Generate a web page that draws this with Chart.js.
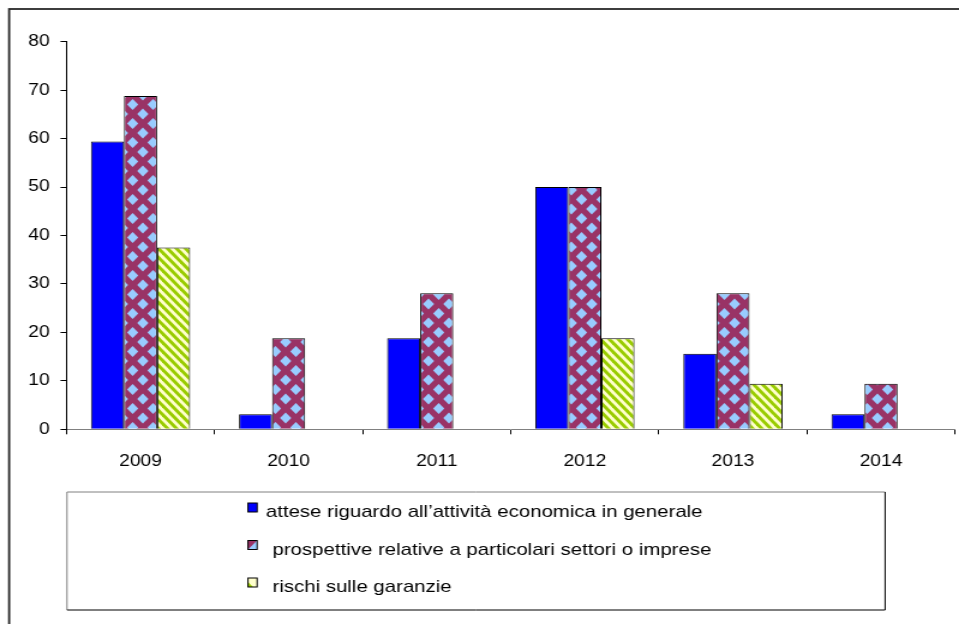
<!DOCTYPE html>
<html>
<head>
<meta charset="utf-8">
<script src="https://cdn.jsdelivr.net/npm/chart.js@4.4.1/dist/chart.umd.min.js"></script>
<style>
    html, body { margin: 0; padding: 0; background: #fff; overflow: hidden; }
    /* the sheet is drawn narrow and widened, like the exported workbook picture */
    #bankChart { display: block; transform: scaleX(1.2003); transform-origin: 0 0; }
</style>
</head>
<body>
<canvas id="bankChart" width="799" height="624"></canvas>
<script>
(function() {
    const YEARS = ['2009', '2010', '2011', '2012', '2013', '2014'];
    const ATTESE = [59.4, 3.1, 18.8, 50.0, 15.6, 3.1];
    const PROSPETTIVE = [68.8, 18.8, 28.1, 50.0, 28.1, 9.4];
    const RISCHI = [37.5, 0, 0, 18.8, 9.4, 0];
    const SERIES_LABELS = [
        'attese riguardo all\u2019attivit\u00e0 economica in generale',
        'prospettive relative a particolari settori o imprese',
        'rischi sulle garanzie'
    ];
    const Y_MAX = 80;
    const Y_STEP = 10;

    const FONT = "'Liberation Sans', Arial, sans-serif";

    function makeTile(w, h, draw) {
        const c = document.createElement('canvas');
        c.width = w;
        c.height = h;
        draw(c.getContext('2d'), w, h);
        return document.createElement('canvas').getContext('2d').createPattern(c, 'repeat');
    }

    // maroon with light blue diamonds, rows offset by half a step
    const diamonds = makeTile(17, 19, (g, w, h) => {
        g.fillStyle = '#993366';
        g.fillRect(0, 0, w, h);
        g.fillStyle = '#99ccff';
        const dx = 4.7, dy = 5.6;
        [[w / 2, h / 2], [0, 0], [w, 0], [0, h], [w, h]].forEach(([cx, cy]) => {
            g.beginPath();
            g.moveTo(cx, cy - dy);
            g.lineTo(cx + dx, cy);
            g.lineTo(cx, cy + dy);
            g.lineTo(cx - dx, cy);
            g.closePath();
            g.fill();
        });
    });

    // pale yellow with green down-right stripes
    const stripes = makeTile(15, 18, (g, w, h) => {
        g.fillStyle = '#ffffcc';
        g.fillRect(0, 0, w, h);
        g.strokeStyle = '#99cc00';
        g.lineWidth = 3;
        const step = w / 2;
        for (let k = -3; k <= 3; k++) {
            g.beginPath();
            g.moveTo(k * step - w, -h);
            g.lineTo(k * step + 2 * w, 2 * h);
            g.stroke();
        }
    });

    const zeroNoBorder = ctx => (ctx.raw ? 1 : 0);

    // outer frame of the sheet object, running off the right and bottom edges
    const framePlugin = {
        id: 'frame',
        beforeDraw(chart) {
            const ctx = chart.ctx;
            ctx.save();
            ctx.strokeStyle = '#2a2a2a';
            ctx.lineWidth = 1.8;
            ctx.strokeRect(7.6, 9, 2000, 2000);
            ctx.restore();
        }
    };

    // boxed legend below the plot
    const boxLegend = {
        id: 'boxLegend',
        afterDraw(chart) {
            const ctx = chart.ctx;
            const left = 55.8, top = 492, right = 737.4, bottom = 610;
            ctx.save();
            ctx.lineWidth = 1;
            ctx.strokeStyle = '#808080';
            ctx.beginPath();
            ctx.moveTo(left, bottom);
            ctx.lineTo(left, top);
            ctx.lineTo(right, top);
            ctx.stroke();
            ctx.strokeStyle = '#000';
            ctx.beginPath();
            ctx.moveTo(right, top);
            ctx.lineTo(right, bottom);
            ctx.lineTo(left, bottom);
            ctx.stroke();

            ctx.font = '17px ' + FONT;
            ctx.fillStyle = '#000';
            ctx.textBaseline = 'alphabetic';
            const baselines = [517, 554.5, 592];
            const textX = [221.5, 227, 227];
            const sx = 206.6, sw = 7.6, sh = 9;
            chart.data.datasets.forEach((ds, i) => {
                const sy = baselines[i] - 14;
                if (i === 0) {
                    ctx.fillStyle = '#0000ff';
                    ctx.fillRect(sx, sy, sw, sh);
                } else if (i === 1) {
                    ctx.fillStyle = '#99ccff';
                    ctx.fillRect(sx, sy, sw, sh);
                    ctx.fillStyle = '#993366';
                    ctx.beginPath();
                    ctx.moveTo(sx, sy);
                    ctx.lineTo(sx + sw, sy);
                    ctx.lineTo(sx, sy + sh);
                    ctx.closePath();
                    ctx.fill();
                } else {
                    ctx.fillStyle = '#ffffcc';
                    ctx.fillRect(sx, sy, sw, sh);
                    ctx.fillStyle = '#99cc00';
                    ctx.beginPath();
                    ctx.moveTo(sx, sy + sh * 0.45);
                    ctx.lineTo(sx + sw * 0.55, sy + sh);
                    ctx.lineTo(sx, sy + sh);
                    ctx.closePath();
                    ctx.fill();
                }
                ctx.strokeStyle = '#000';
                ctx.lineWidth = 1;
                ctx.strokeRect(sx, sy, sw, sh);
                ctx.fillStyle = '#000';
                ctx.fillText(ds.label, textX[i], baselines[i]);
            });
            ctx.restore();
        }
    };

    const ctx = document.getElementById('bankChart').getContext('2d');
    new Chart(ctx, {
        type: 'bar',
        data: {
            labels: YEARS,
            datasets: [
                { label: SERIES_LABELS[0], data: ATTESE, backgroundColor: '#0000ff' },
                { label: SERIES_LABELS[1], data: PROSPETTIVE, backgroundColor: diamonds },
                { label: SERIES_LABELS[2], data: RISCHI, backgroundColor: stripes }
            ].map(ds => Object.assign(ds, {
                borderColor: '#000',
                borderWidth: zeroNoBorder,
                categoryPercentage: 0.67,
                barPercentage: 1.0
            }))
        },
        options: {
            responsive: false,
            animation: false,
            devicePixelRatio: 1,
            layout: { padding: { top: 41.7, right: 3.3, bottom: 0, left: 0 } },
            plugins: {
                legend: { display: false },
                tooltip: { enabled: false }
            },
            scales: {
                x: {
                    grid: {
                        display: true,
                        drawOnChartArea: false,
                        color: '#000',
                        tickLength: 5
                    },
                    border: { color: '#808080', width: 1 },
                    ticks: {
                        color: '#000',
                        font: { family: FONT, size: 16 },
                        padding: 18,
                        maxRotation: 0
                    },
                    afterFit(scale) { scale.height = 624 - 429.3; }
                },
                y: {
                    min: 0,
                    max: Y_MAX,
                    grid: {
                        display: true,
                        drawOnChartArea: false,
                        color: '#000',
                        tickLength: 5
                    },
                    border: { color: '#000', width: 1 },
                    ticks: {
                        stepSize: Y_STEP,
                        color: '#000',
                        font: { family: FONT, size: 16 },
                        padding: 9
                    },
                    afterFit(scale) { scale.width = 55.4; }
                }
            }
        },
        plugins: [framePlugin, boxLegend]
    });
})();
</script>
</body>
</html>
